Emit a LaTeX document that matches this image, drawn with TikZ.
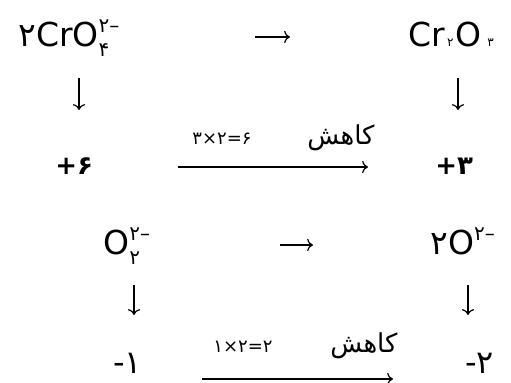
\documentclass[tikz,border=0pt]{standalone}
\usepackage{fontspec}
\setmainfont{DejaVu Sans}
\newfontfamily\arabicfont[Script=Arabic]{DejaVu Sans}
\TeXXeTstate=1
\usetikzlibrary{arrows.meta}
\newcommand{\chg}[2]{\rlap{\raisebox{-5pt}{\fontsize{10}{10}\selectfont #2}}\raisebox{7pt}{\fontsize{10}{10}\selectfont #1}}
\newcommand{\supx}[1]{\raisebox{7pt}{\fontsize{10}{10}\selectfont #1}}
\newcommand{\idx}[1]{{\fontsize{6}{6}\selectfont #1}}

\begin{document}
\begin{tikzpicture}[>={Computer Modern Rightarrow},x=0.5pt,y=-0.5pt,font=\fontsize{16.5}{20}\selectfont]
\tikzstyle{chem}=[anchor=base west,inner sep=0pt]
\tikzstyle{ox}=[anchor=base west,inner sep=0pt,font=\bfseries\fontsize{13}{15}\selectfont]
\tikzstyle{neg}=[anchor=base west,inner sep=0pt,font=\fontsize{16}{18}\selectfont]
\tikzstyle{lbl}=[anchor=base west,inner sep=0pt,font=\fontsize{9}{11}\selectfont]
\tikzstyle{rtl}=[anchor=base west,inner sep=0pt,font=\arabicfont\fontsize{13}{15}\selectfont]
\tikzstyle{arr}=[->,line width=0.6pt]
\useasboundingbox (0,0) rectangle (511,383);
% chromium
\node[chem] (cro) at (18,47) {۲CrO\chg{۲–}{۴}};
\node[chem] (crox) at (408,47) {Cr\kern1pt\idx{۲}\kern1pt O\kern3pt\idx{۳}};
\node[ox] (p6) at (55,175) {+۶};
\node[ox] (p3) at (435,175) {+۳};
\node[lbl] (m6) at (192,145) {۳×۲=۶};
\node[rtl] (red1) at (307,145) {\beginR کاهش\endR};
% oxygen
\node[chem] (per) at (103,255) {O\chg{۲–}{۲}};
\node[chem] (oxd) at (430,255) {۲O\supx{۲–}};
\node[neg] (n1) at (113,374) {-۱};
\node[neg] (n2) at (465,374) {-۲};
\node[lbl] (m2) at (213,353) {۱×۲=۲};
\node[rtl] (red2) at (330,353) {\beginR کاهش\endR};
% arrow ends
\coordinate (h1a) at (255,37); \coordinate (h1b) at (290,37);
\coordinate (v1a) at (79,78); \coordinate (v1b) at (79,110);
\coordinate (v2a) at (458,78); \coordinate (v2b) at (458,110);
\coordinate (l1a) at (178,167); \coordinate (l1b) at (368,167);
\coordinate (h2a) at (280,245); \coordinate (h2b) at (313,245);
\coordinate (v3a) at (134,285); \coordinate (v3b) at (134,315);
\coordinate (v4a) at (468,285); \coordinate (v4b) at (468,315);
\coordinate (l2a) at (202,379); \coordinate (l2b) at (393,379);
\draw[arr] (h1a) -- (h1b);
\draw[arr] (v1a) -- (v1b);
\draw[arr] (v2a) -- (v2b);
\draw[arr] (l1a) -- (l1b);
\draw[arr] (h2a) -- (h2b);
\draw[arr] (v3a) -- (v3b);
\draw[arr] (v4a) -- (v4b);
\draw[arr] (l2a) -- (l2b);
\end{tikzpicture}
\end{document}
